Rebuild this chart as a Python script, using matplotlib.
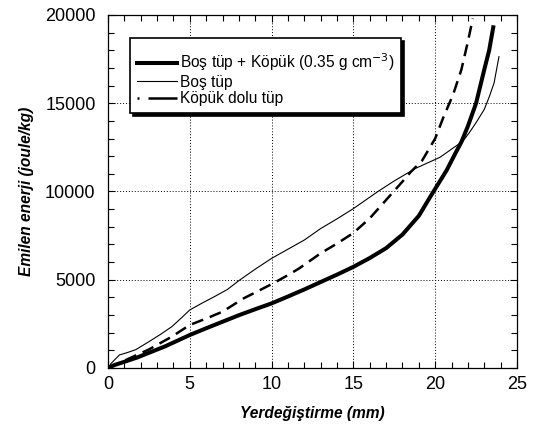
import matplotlib.pyplot as plt
from matplotlib.lines import Line2D
from matplotlib.ticker import MultipleLocator

plt.rcParams['font.family'] = ['Liberation Sans', 'DejaVu Sans']

# energy absorbed vs displacement for three tube configurations
x_filled = [0, 0.4, 1.0, 1.8, 2.5, 3.5, 5.0, 6.0, 7.0, 8.0, 9.0, 10.0, 11.0,
            12.0, 13.0, 14.0, 15.0, 16.0, 17.0, 18.0, 19.0, 19.7, 20.3, 20.7,
            21.2, 21.6, 22.0, 22.5, 23.0, 23.3, 23.55]
y_filled = [0, 170, 350, 600, 860, 1230, 1870, 2250, 2620, 2990, 3330, 3660, 4050,
            4450, 4870, 5290, 5730, 6230, 6790, 7560, 8620, 9700, 10600, 11200,
            12100, 12800, 13700, 15000, 16900, 18000, 19300]

x_empty = [0, 0.2, 0.7, 1.2, 1.7, 2.5, 3.2, 3.9, 4.5, 5.0, 5.8, 6.5, 7.3, 8.0,
           9.0, 10.0, 11.0, 12.0, 13.0, 14.0, 15.0, 16.5, 17.5, 18.8, 20.3,
           21.0, 21.7, 22.1, 22.5, 23.0, 23.3, 23.6, 23.9]
y_empty = [0, 270, 740, 880, 1040, 1490, 1900, 2340, 2850, 3290, 3700, 4040, 4450, 4950,
           5600, 6210, 6730, 7250, 7900, 8450, 9030, 10000, 10600, 11310, 11940,
           12400, 12850, 13350, 13900, 14650, 15350, 16150, 17640]

x_foam = [0, 0.5, 1.2, 2.5, 3.9, 5.0, 6.0, 7.0, 8.3, 9.2, 10.1, 11.0, 11.7, 13.0,
          14.0, 15.0, 16.0, 16.5, 17.0, 18.0, 18.5, 19.2, 20.0, 20.5, 21.1, 21.6,
          22.0, 22.3]
y_foam = [0, 200, 500, 1050, 1775, 2440, 2800, 3190, 3950, 4370, 4800, 5260, 5650, 6500,
          7050, 7650, 8480, 9000, 9520, 10560, 11100, 11750, 13000, 14200, 15500, 16900,
          18490, 19800]

labels = ["Boş tüp + Köpük (0.35 g cm$^{-3}$)", "Boş tüp", "Köpük dolu tüp"]

fig = plt.figure(figsize=(5.36, 4.28), dpi=100)
ax = fig.add_axes([0.2015, 0.1402, 0.763, 0.8248])

l1, = ax.plot(x_filled, y_filled, color="black", lw=2.9, solid_joinstyle="round")
l2, = ax.plot(x_empty, y_empty, color="black", lw=0.8, solid_joinstyle="round")
ax.plot(x_foam, y_foam, color="black", lw=1.8, linestyle=(0, (4.8, 2.8)))

ax.set_xlim(0, 25)
ax.set_ylim(0, 20000)
ax.xaxis.set_major_locator(MultipleLocator(5))
ax.xaxis.set_minor_locator(MultipleLocator(1))
ax.yaxis.set_major_locator(MultipleLocator(5000))
ax.yaxis.set_minor_locator(MultipleLocator(1000))

ax.tick_params(which="both", direction="in", top=True, right=True, width=0.8)
ax.tick_params(which="major", length=5, labelsize=13)
ax.tick_params(which="minor", length=4)
ax.tick_params(axis="x", which="major", pad=6)
ax.tick_params(axis="y", which="major", pad=9)

ax.grid(True, which="major", color="black", linestyle=(0, (1, 2)), lw=0.7)
for s in ax.spines.values():
    s.set_linewidth(0.9)

ax.set_xlabel("Yerdeğiştirme (mm)", fontsize=11.2, fontweight="bold", fontstyle="italic", labelpad=9)
ax.set_ylabel("Emilen enerji (joule/kg)", fontsize=11.2, fontweight="bold", fontstyle="italic", labelpad=8)

# legend key for the dashed series: a dot followed by a long dash
dash_key = Line2D([], [], color="black", lw=1.8, linestyle=(0, (0.8, 3.6, 12, 3)))
leg = ax.legend(handles=[l1, l2, dash_key], labels=labels,
                loc="upper left", bbox_to_anchor=(0.0538, 0.935), borderaxespad=0,
                fontsize=11.2, handlelength=2.55, handletextpad=0.2, labelspacing=0.1,
                borderpad=0.45, fancybox=False, framealpha=1,
                title=" ", title_fontsize=4,
                shadow={"color": "black", "alpha": 1})
leg.get_frame().set_edgecolor("black")
leg.get_frame().set_linewidth(1.2)

fig.savefig("out.png", dpi=100)
